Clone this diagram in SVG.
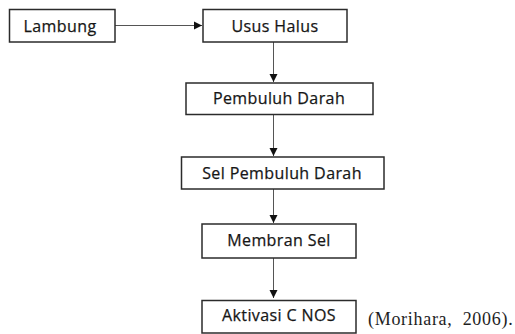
<svg xmlns="http://www.w3.org/2000/svg" width="515" height="334" viewBox="0 0 515 334">
<style>
.box{fill:#fff;stroke:#2b2b2b;stroke-width:1.5}
.lbl{font-family:"Open Sans","Liberation Sans",sans-serif;font-size:16px;fill:#161616;stroke:#161616;stroke-width:0.25;text-anchor:middle;letter-spacing:0.4px}
.edge{stroke:#555;stroke-width:1;fill:none;marker-end:url(#ah)}
.ref{font-family:"Liberation Serif","Times New Roman",serif;font-size:18px;fill:#1e1e1e;letter-spacing:0.7px;word-spacing:5px}
</style>
<defs>
<marker id="ah" markerUnits="userSpaceOnUse" markerWidth="9" markerHeight="9" refX="8" refY="4.5" orient="auto">
<path d="M0,0.5 L8,4.5 L0,8.5 z" fill="#111"/>
</marker>
</defs>
<rect width="515" height="334" fill="#fff"/>
<g id="connectors">
<line class="edge" x1="115" y1="25.5" x2="202" y2="25.5"/>
<line class="edge" x1="273.5" y1="42" x2="273.5" y2="82"/>
<line class="edge" x1="273.5" y1="114.5" x2="273.5" y2="156"/>
<line class="edge" x1="273.5" y1="189" x2="273.5" y2="223"/>
<line class="edge" x1="273.5" y1="258" x2="273.5" y2="298"/>
</g>
<g id="lambung"><rect class="box" x="9.5" y="9.5" width="105.5" height="32.5"/><text class="lbl" x="60" y="32">Lambung</text></g>
<g id="usus-halus"><rect class="box" x="203" y="9.5" width="144" height="32.5"/><text class="lbl" x="275" y="32">Usus Halus</text></g>
<g id="pembuluh-darah"><rect class="box" x="186" y="83" width="187" height="31.5"/><text class="lbl" x="279" y="104">Pembuluh Darah</text></g>
<g id="sel-pembuluh-darah"><rect class="box" x="181.5" y="157" width="202.5" height="32"/><text class="lbl" x="282" y="179">Sel Pembuluh Darah</text></g>
<g id="membran-sel"><rect class="box" x="202" y="224" width="154" height="34"/><text class="lbl" x="279" y="246">Membran Sel</text></g>
<g id="aktivasi-cnos"><rect class="box" x="202" y="300.5" width="154" height="32.5"/><text class="lbl" x="279" y="321">Aktivasi C NOS</text></g>
<text class="ref" x="368" y="325">(Morihara, 2006).</text>
</svg>
